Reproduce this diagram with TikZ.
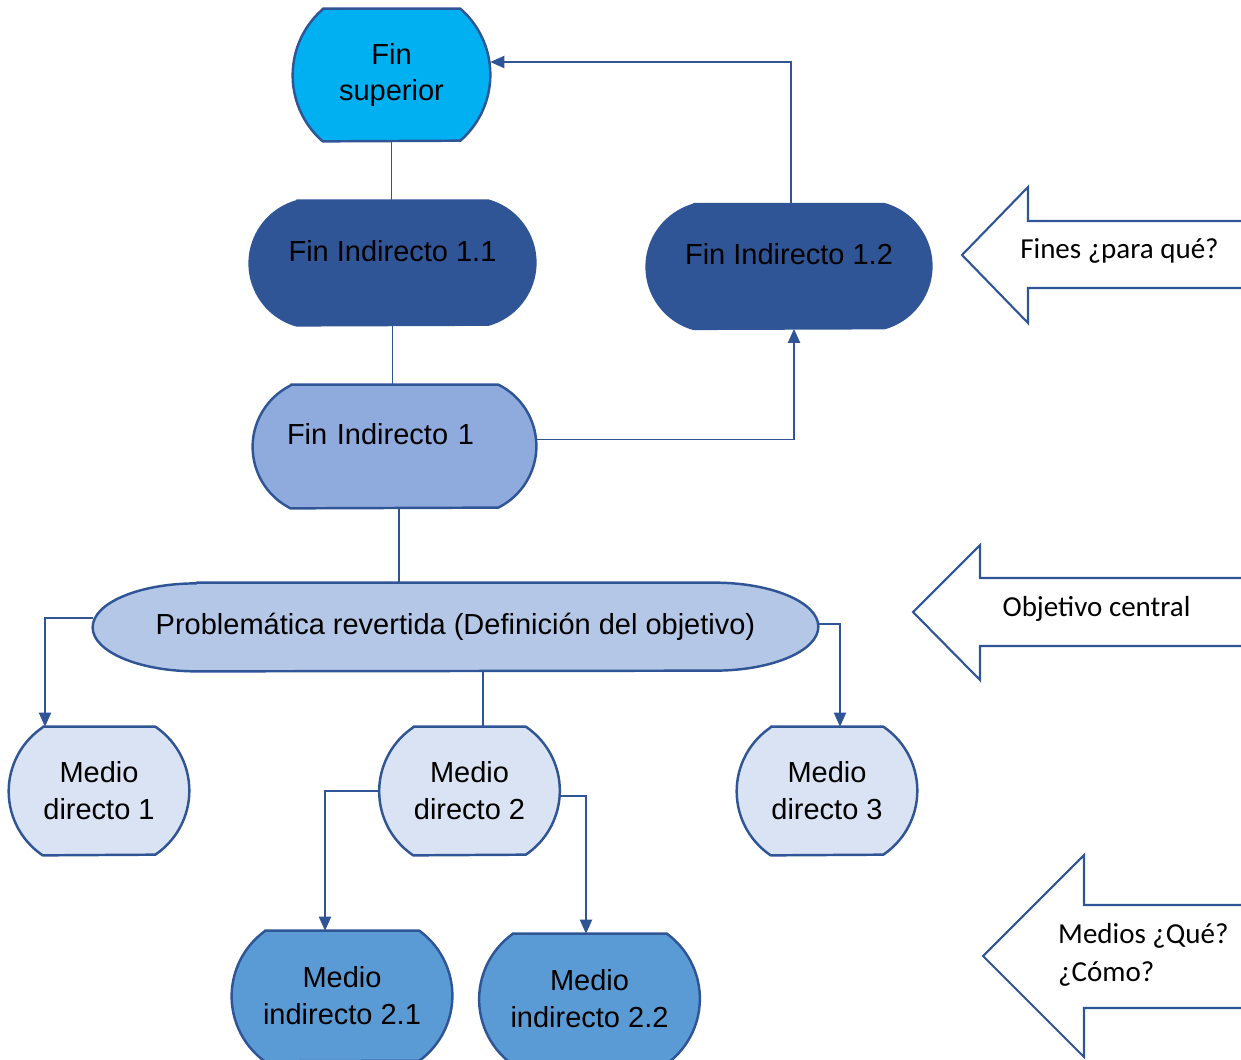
\documentclass[tikz,border=0pt]{standalone}
\usepackage{fontspec}
\setmainfont{Liberation Sans}
\newfontfamily\calfont{Carlito}
\usetikzlibrary{arrows.meta, calc, backgrounds}
\definecolor{capblue}{RGB}{47, 85, 151}
\definecolor{supcyan}{RGB}{0, 176, 240}
\definecolor{finlight}{RGB}{143, 170, 220}
\definecolor{problight}{RGB}{180, 199, 231}
\definecolor{mediopale}{RGB}{218, 227, 243}
\definecolor{mediomid}{RGB}{91, 155, 213}
\tikzset{
    capbox/.style={
        rectangle, inner sep=2pt, align=center, text=black,
        font=\fontsize{16.5}{21}\selectfont
    },
    uptext/.style={text height=0.4cm, text depth=0.48cm},
    capline/.style={draw=capblue, line width=1.4pt, line join=round},
    link/.style={draw=capblue, line width=0.8pt},
    arrow/.style={link, -{Triangle[length=8pt, width=7pt]}},
    bigarrow/.style={draw=capblue, line width=1.2pt, line join=miter},
    arrowtext/.style={font=\calfont\fontsize{16.5}{21.5}\selectfont, text=black, align=left},
}
\begin{document}
\begin{tikzpicture}
    \useasboundingbox (0,0) rectangle (24.82,-21.18);

    % fines
    \node[capbox, minimum width=3.94cm, minimum height=2.64cm] (sup) at (7.83,-1.50) {Fin\\superior};
    \node[capbox, uptext, minimum width=5.70cm, minimum height=2.48cm] (fi11) at (7.85,-5.26) {Fin Indirecto 1.1};
    \node[capbox, uptext, minimum width=5.68cm, minimum height=2.48cm] (fi12) at (15.78,-5.33) {Fin Indirecto 1.2};
    \node[capbox, uptext, text width=4.3cm, align=left, minimum width=5.66cm, minimum height=2.46cm] (fi1) at (7.89,-8.93) {Fin Indirecto 1};

    % objetivo
    \node[capbox, minimum width=14.5cm, minimum height=1.76cm] (prob) at (9.11,-12.54) {Problemática revertida (Definición del objetivo)};

    % medios
    \node[capbox, minimum width=3.6cm, minimum height=2.56cm] (md1) at (1.98,-15.82) {Medio\\directo 1};
    \node[capbox, minimum width=3.6cm, minimum height=2.56cm] (md2) at (9.39,-15.82) {Medio\\directo 2};
    \node[capbox, minimum width=3.6cm, minimum height=2.56cm] (md3) at (16.54,-15.82) {Medio\\directo 3};
    \node[capbox, minimum width=4.4cm, minimum height=2.6cm] (mi21) at (6.84,-19.92) {Medio\\indirecto 2.1};
    \node[capbox, minimum width=4.4cm, minimum height=2.6cm] (mi22) at (11.79,-19.98) {Medio\\indirecto 2.2};

    % box outlines with curved sides
    \begin{scope}[on background layer]
        \foreach \nm/\ang/\rx/\ry/\bl/\col in {
            sup/48.9/1.752/1.752/0.600/supcyan,
            fi11/74.3/1.288/1.288/0.939/capblue,
            fi12/74.3/1.288/1.288/0.939/capblue,
            fi1/63.4/1.375/1.375/0.759/finlight,
            prob/90/2.08/0.88/2.08/problight,
            md1/56/1.544/1.544/0.681/mediopale,
            md2/56/1.544/1.544/0.681/mediopale,
            md3/56/1.544/1.544/0.681/mediopale,
            mi21/53.9/1.61/1.61/0.661/mediomid,
            mi22/53.9/1.61/1.61/0.661/mediomid}
        {
            \draw[capline, fill=\col] ([xshift=\bl cm]\nm.north west) -- ([xshift=-\bl cm]\nm.north east)
                arc[start angle=\ang, end angle=-\ang, x radius=\rx cm, y radius=\ry cm]
                -- ([xshift=\bl cm]\nm.south west)
                arc[start angle=180+\ang, end angle=180-\ang, x radius=\rx cm, y radius=\ry cm] -- cycle;
        }
    \end{scope}

    % connectors
    \draw[link] (sup.south) -- (sup.south |- fi11.north);
    \draw[link] (fi11.south) -- (fi11.south |- fi1.north);
    \draw[arrow] ([yshift=0.14cm]fi1.east) -| ([xshift=0.1cm]fi12.south);
    \draw[arrow] ([xshift=0.04cm]fi12.north) |- ([yshift=0.26cm]sup.east);
    \draw[link] ([xshift=0.09cm]fi1.south) -- ([xshift=0.09cm]fi1.south |- prob.north);
    \draw[arrow] ([yshift=0.18cm]prob.west) -| ([xshift=-1.08cm]md1.north);
    \draw[arrow] ([yshift=0.06cm]prob.east) -| ([xshift=0.26cm]md3.north);
    \draw[link] ([xshift=0.27cm]md2.north) -- ([xshift=0.27cm]md2.north |- prob.south);
    \draw[arrow] (md2.west) -| ([xshift=-0.34cm]mi21.north);
    \draw[arrow] ([yshift=-0.1cm]md2.east) -| ([xshift=-0.07cm]mi22.north);

    % side arrows
    \draw[bigarrow] (25.5,-4.42) -- (20.56,-4.42) -- (20.56,-3.74) -- (19.24,-5.10)
        -- (20.56,-6.46) -- (20.56,-5.76) -- (25.5,-5.76);
    \node[arrowtext] (fines) at (22.39,-5.02) {Fines ¿para qué?};
    \draw[bigarrow] (25.5,-11.56) -- (19.60,-11.56) -- (19.60,-10.90) -- (18.26,-12.24)
        -- (19.60,-13.60) -- (19.60,-12.92) -- (25.5,-12.92);
    \node[arrowtext] (central) at (21.93,-12.18) {Objetivo central};
    \draw[bigarrow] (25.5,-18.10) -- (21.68,-18.10) -- (21.68,-17.10) -- (19.66,-19.12)
        -- (21.68,-21.14) -- (21.68,-20.16) -- (25.5,-20.16);
    \node[arrowtext, anchor=west] (medios) at (21.04,-19.10) {Medios ¿Qué?\\¿Cómo?};
\end{tikzpicture}
\end{document}
